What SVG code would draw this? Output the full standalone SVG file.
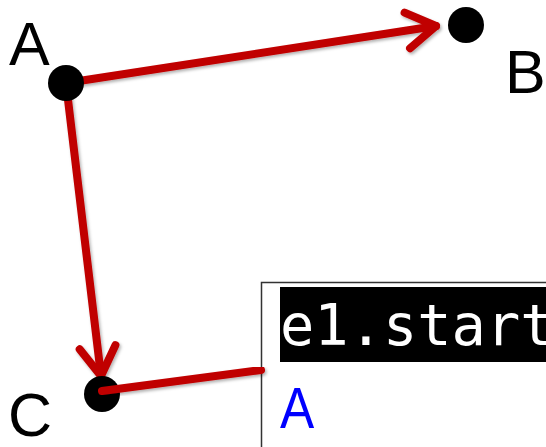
<svg xmlns="http://www.w3.org/2000/svg" width="546" height="447" viewBox="0 0 546 447">
<style>
.edge{stroke:#C00000;stroke-width:8;fill:none;stroke-linecap:round;stroke-linejoin:round}
.dot{fill:#000}
.lbl{font-family:"Liberation Sans",Arial,sans-serif;font-size:61px;fill:#000}
.code{font-family:"DejaVu Sans Mono","Liberation Mono",monospace;font-size:57px;fill:#fff}
.val{font-family:"Liberation Sans",Arial,sans-serif;font-size:57px;fill:#0000FF}
</style>
<defs>
<filter id="sh" x="-10%" y="-10%" width="130%" height="130%">
<feDropShadow dx="1.5" dy="2" stdDeviation="1.5" flood-color="#000" flood-opacity="0.3"/>
</filter>
<marker id="arr" markerUnits="userSpaceOnUse" viewBox="-40 -25 50 50" markerWidth="50" markerHeight="50" refX="0" refY="0" orient="auto">
<path d="M-29,-18 L0,0 L-29,18" fill="none" stroke="#C00000" stroke-width="8" stroke-linecap="round" stroke-linejoin="round"/>
</marker>
</defs>
<g id="box">
<rect x="261.5" y="282.5" width="300" height="180" fill="#fff" stroke="#333" stroke-width="1.5"/>
<rect x="280" y="287" width="280" height="75" fill="#000"/>
<text class="code" x="280" y="345">e1.start</text>
<text class="val" transform="translate(280,428) scale(0.9,1)">A</text>
</g>
<g id="connectors" filter="url(#sh)">
<line class="edge" x1="66" y1="83" x2="436" y2="26" marker-end="url(#arr)"/>
<line class="edge" x1="66" y1="83" x2="101" y2="376" marker-end="url(#arr)"/>
</g>
<g id="nodeA"><circle class="dot" cx="66" cy="83" r="18"/><text class="lbl" x="9" y="65">A</text></g>
<g id="nodeB"><circle class="dot" cx="466" cy="25" r="18"/><text class="lbl" x="505" y="93">B</text></g>
<g id="nodeC"><circle class="dot" cx="102" cy="394" r="18"/><text class="lbl" x="8" y="436">C</text></g>
<g id="connectors2" filter="url(#sh)">
<line class="edge" x1="102" y1="391" x2="261" y2="370" stroke-linecap="butt"/>
</g>
</svg>
